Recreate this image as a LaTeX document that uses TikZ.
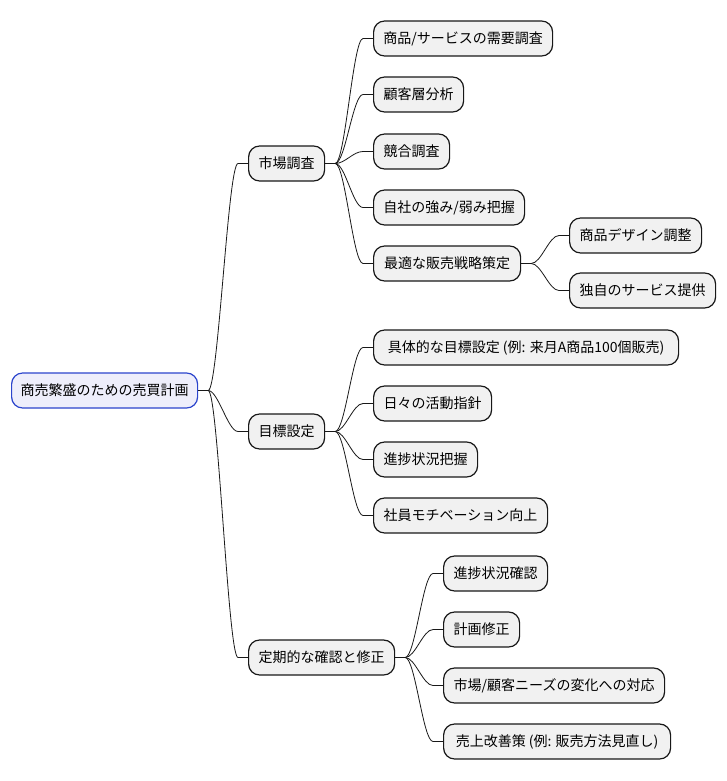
\documentclass[tikz,border=0pt]{standalone}
\usepackage{fontspec}
\setmainfont{Noto Sans CJK JP}
\usetikzlibrary{calc}
\definecolor{nodefill}{HTML}{F1F1F1}
\definecolor{nodeline}{HTML}{181818}
\definecolor{rootfill}{HTML}{EEEEFB}
\definecolor{rootline}{HTML}{2B44CC}
\tikzset{
  nd/.style={draw=nodeline, fill=nodefill, line width=1.2pt, rounded corners=11pt,
    minimum height=35pt, inner xsep=0pt, inner ysep=0pt, anchor=west,
    font=\fontsize{14pt}{16pt}\selectfont, text=black},
  rootnd/.style={nd, draw=rootline, fill=rootfill},
  link/.style={draw=nodeline, line width=0.8pt}
}
\newcommand\mmlink[2]{%
  \draw[link] let \p1=(#1.east), \p2=(#2.west) in
    (\p1) -- (\x1+10pt,\y1) .. controls (\x1+20pt,\y1) and (\x2-20pt,\y2) .. (\x2-10pt,\y2) -- (\p2);}
\begin{document}
\begin{tikzpicture}[x=1pt,y=-1pt]
\useasboundingbox (0,0) rectangle (726,781);
% root
\node[rootnd, minimum width=186pt] (root) at (11,390.5) {商売繁盛のための売買計画};
% level 1
\node[nd, minimum width=76pt] (m) at (248,163.5) {市場調査};
\node[nd, minimum width=76pt] (g) at (248,431.5) {目標設定};
\node[nd, minimum width=146pt] (t) at (248,657.5) {定期的な確認と修正};
% level 2: market
\node[nd, minimum width=179pt] (m1) at (373,38.5) {商品/サービスの需要調査};
\node[nd, minimum width=90pt] (m2) at (373,94.5) {顧客層分析};
\node[nd, minimum width=76pt] (m3) at (373,151.5) {競合調査};
\node[nd, minimum width=151pt] (m4) at (373,207.5) {自社の強み/弱み把握};
\node[nd, minimum width=147pt] (m5) at (373,263.5) {最適な販売戦略策定};
\node[nd, minimum width=132pt] (m51) at (569,235.5) {商品デザイン調整};
\node[nd, minimum width=146pt] (m52) at (569,290.5) {独自のサービス提供};
% level 2: goals
\node[nd, minimum width=305pt] (g1) at (373,347.5) {具体的な目標設定 (例: 来月A商品100個販売)};
\node[nd, minimum width=118pt] (g2) at (373,403.5) {日々の活動指針};
\node[nd, minimum width=104pt] (g3) at (373,459.5) {進捗状況把握};
\node[nd, minimum width=174pt] (g4) at (373,515.5) {社員モチベーション向上};
% level 2: review
\node[nd, minimum width=104pt] (t1) at (443,573.5) {進捗状況確認};
\node[nd, minimum width=76pt] (t2) at (443,629.5) {計画修正};
\node[nd, minimum width=221pt] (t3) at (443,685.5) {市場/顧客ニーズの変化への対応};
\node[nd, minimum width=227pt] (t4) at (443,741.5) {売上改善策 (例: 販売方法見直し)};
% links
\mmlink{root}{m}\mmlink{root}{g}\mmlink{root}{t}
\mmlink{m}{m1}\mmlink{m}{m2}\mmlink{m}{m3}\mmlink{m}{m4}\mmlink{m}{m5}
\mmlink{m5}{m51}\mmlink{m5}{m52}
\mmlink{g}{g1}\mmlink{g}{g2}\mmlink{g}{g3}\mmlink{g}{g4}
\mmlink{t}{t1}\mmlink{t}{t2}\mmlink{t}{t3}\mmlink{t}{t4}
\end{tikzpicture}
\end{document}
